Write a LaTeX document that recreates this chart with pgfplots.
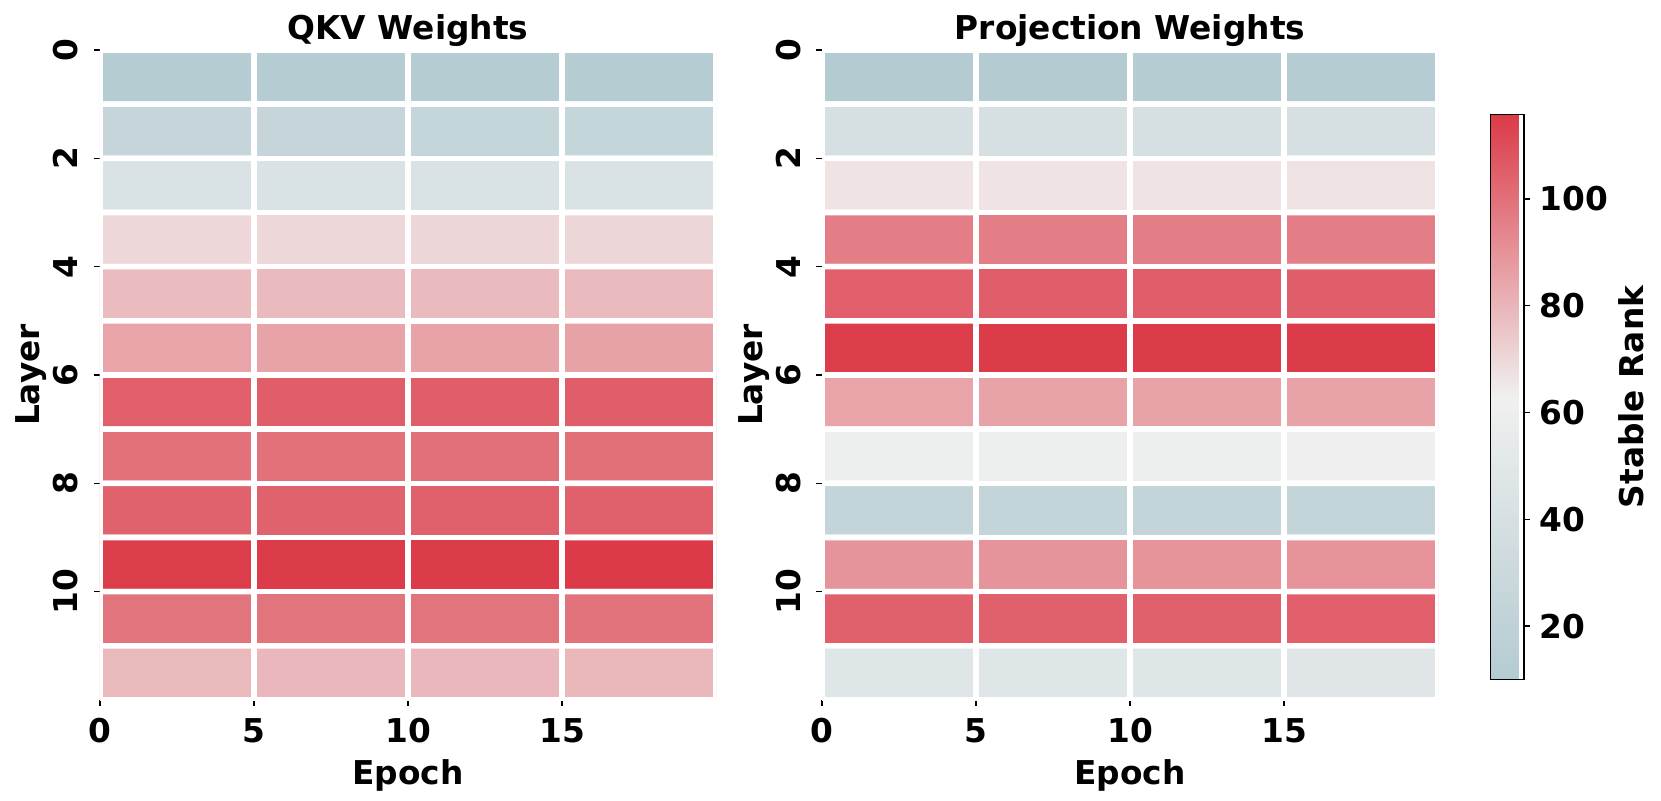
\documentclass[border=0pt]{standalone}
\usepackage{fontspec}
\setmainfont{DejaVu Sans}
\usepackage{pgfplots}
\usepackage{pgfplotstable}
\pgfplotsset{compat=1.18}

\newcommand\lbl{\fontsize{16.4}{19.7}\selectfont\bfseries}

% stable rank per layer (rows) and epoch (0,5,10,15); y = 11.5 - layer
\pgfplotstableread{
x y c
2.5 11.5 11.5
7.5 11.5 11.7
12.5 11.5 11.9
17.5 11.5 12.0
2.5 10.5 24.8
7.5 10.5 25.0
12.5 10.5 25.2
17.5 10.5 25.3
2.5 9.5 42.5
7.5 9.5 42.6
12.5 9.5 42.8
17.5 9.5 43.0
2.5 8.5 70.1
7.5 8.5 70.3
12.5 8.5 70.4
17.5 8.5 70.6
2.5 7.5 78.2
7.5 7.5 78.4
12.5 7.5 78.5
17.5 7.5 78.6
2.5 6.5 85.1
7.5 6.5 85.3
12.5 6.5 85.4
17.5 6.5 85.6
2.5 5.5 105.2
7.5 5.5 105.3
12.5 5.5 105.4
17.5 5.5 105.5
2.5 4.5 99.9
7.5 4.5 100.0
12.5 4.5 100.1
17.5 4.5 100.2
2.5 3.5 104.2
7.5 3.5 104.3
12.5 3.5 104.4
17.5 3.5 104.5
2.5 2.5 115.0
7.5 2.5 115.3
12.5 2.5 115.5
17.5 2.5 115.8
2.5 1.5 98.9
7.5 1.5 99.0
12.5 1.5 99.1
17.5 1.5 99.2
2.5 0.5 79.0
7.5 0.5 79.1
12.5 0.5 79.2
17.5 0.5 79.3
}\qkv

\pgfplotstableread{
x y c
2.5 11.5 10.5
7.5 11.5 10.6
12.5 11.5 10.8
17.5 11.5 10.9
2.5 10.5 39.6
7.5 10.5 39.7
12.5 10.5 39.8
17.5 10.5 39.9
2.5 9.5 66.6
7.5 9.5 66.7
12.5 9.5 66.8
17.5 9.5 66.9
2.5 8.5 96.2
7.5 8.5 96.0
12.5 8.5 96.3
17.5 8.5 96.1
2.5 7.5 105.2
7.5 7.5 105.3
12.5 7.5 105.4
17.5 7.5 105.5
2.5 6.5 115.0
7.5 6.5 115.2
12.5 6.5 115.4
17.5 6.5 115.6
2.5 5.5 85.1
7.5 5.5 85.2
12.5 5.5 85.3
17.5 5.5 85.4
2.5 4.5 60.5
7.5 4.5 60.6
12.5 4.5 60.7
17.5 4.5 60.8
2.5 3.5 23.8
7.5 3.5 23.9
12.5 3.5 24.0
17.5 3.5 24.1
2.5 2.5 89.6
7.5 2.5 89.7
12.5 2.5 89.8
17.5 2.5 89.9
2.5 1.5 104.7
7.5 1.5 104.8
12.5 1.5 104.9
17.5 1.5 105.0
2.5 0.5 48.1
7.5 0.5 48.2
12.5 0.5 48.3
17.5 0.5 48.4
}\proj

\pgfplotsset{
  colormap={srank}{rgb255=(180,203,210) rgb255=(240,240,239) rgb255=(220,58,72)},
  hm/.style={
    scale only axis, width=308pt, height=325pt,
    xmin=0, xmax=20, ymin=0, ymax=12,
    xtick={0,5,10,15},
    ytick={2,4,6,8,10,12},
    yticklabels={10,8,6,4,2,0},
    axis lines*=left, axis line style={draw=none},
    tick align=outside, major tick length=3pt,
    tick style={black, line width=0.75pt},
    colormap name=srank, point meta min=10, point meta max=115.8,
    /pgf/number format/assume math mode=true,
    tick label style={font=\lbl},
    xticklabel style={anchor=north, inner sep=0pt, yshift=-6pt},
    yticklabel style={xshift=-8pt, rotate=90, anchor=base, inner sep=0pt},
    xlabel={Epoch}, ylabel={Layer},
    every axis x label/.style={at={(axis description cs:0.5,0)}, yshift=-42pt, anchor=base, inner sep=0pt, font=\lbl},
    every axis y label/.style={at={(axis description cs:0,0.5)}, xshift=-30pt, rotate=90, anchor=base, inner sep=0pt, font=\lbl},
    every axis title/.style={at={(axis description cs:0.5,1)}, yshift=5.35pt, anchor=base, inner sep=0pt, font=\lbl},
  },
  cells/.style={matrix plot*, shader=faceted, faceted color=white, line width=2.8pt, mesh/cols=4, point meta=explicit},
}

\begin{document}
\begin{tikzpicture}
\useasboundingbox (0,0) rectangle (830.5pt,400pt);

\begin{axis}[hm, at={(50pt,50pt)}, anchor=south west, title={QKV Weights}]
  \addplot[cells] table[x=x, y=y, meta=c] {\qkv};
\end{axis}

\begin{axis}[hm, at={(411pt,50pt)}, anchor=south west, title={Projection Weights},
  colorbar,
  colorbar style={
    % the default colorbar shift (0.3cm) is added on top of this
    at={(parent axis.north east)}, anchor=north west, xshift=17.66pt, yshift=-32.25pt,
    scale only axis, width=16.8pt, height=282.5pt,
    ytick={20,40,60,80,100}, ytick pos=right, yticklabel pos=right,
    tick align=outside, major tick length=3pt, tick style={black, line width=0.75pt},
    /pgf/number format/assume math mode=true,
    yticklabel style={xshift=4.5pt, anchor=west, inner sep=0pt, font=\lbl},
    ylabel={Stable Rank},
    every axis y label/.style={at={(axis description cs:1,0.5)}, xshift=59.5pt, rotate=90, anchor=base, inner sep=0pt, font=\lbl},
    axis line style={line width=0.9pt, black},
  }]
  \addplot[cells] table[x=x, y=y, meta=c] {\proj};
\end{axis}
\end{tikzpicture}
\end{document}
